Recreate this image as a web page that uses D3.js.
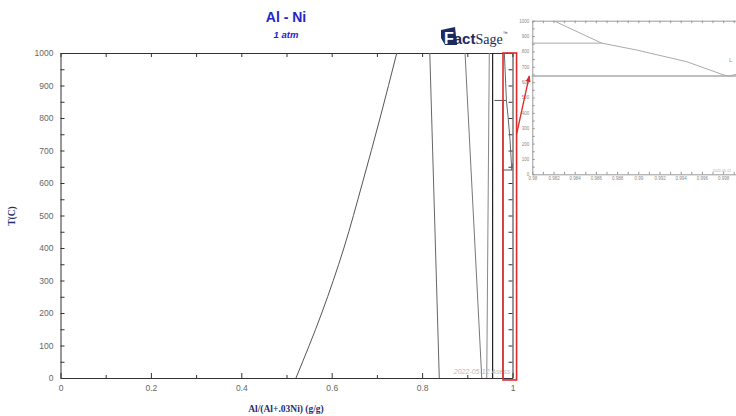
<!DOCTYPE html>
<html><head><meta charset="utf-8">
<script src="https://cdn.jsdelivr.net/npm/d3@7"></script>
<style>body{margin:0;background:#fff}svg{display:block}</style>
</head><body>
<svg id="c" width="736" height="416"></svg>
<script>
// ---- data (x = Al/(Al+.03Ni) g/g, T in °C) ----
const niSolvus   = [[0.521,0],[0.578,200],[0.627,400],[0.668,600],[0.707,800],[0.744,1000]];
const gammaPrime = [[0.817,1000],[0.838,0]];
const b2Left     = [[0.895,1000],[0.932,0]];
const b2Right    = [[0.9487,1000],[0.943,0]];
const al3ni2     = [[0.956,1000],[0.956,0]];
const peritectic = [[0.960,854],[0.98655,854]];
const al3ni      = [[0.9787,854],[0.9787,0]];
const eutectic   = [[0.9787,640],[1.0,640]];
const liquidus   = [[0.982,1000],[0.98655,854],[0.98985,809],[0.99457,733],[0.99808,646],[0.9985,640]];
const alLiquidus = [[0.9985,640],[1.0,660]];
const xTicksMain = [0,0.1,0.2,0.3,0.4,0.5,0.6,0.7,0.8,0.9,1];
const yTicksMain = d3.range(0,1001,50);
const xTicksInset = d3.range(0,21).map(i=>0.98+i*0.001);
const yTicksInset = d3.range(0,1001,50);

const svg = d3.select("#c");
const W=736,H=416;

// ---- main chart ----
const x = d3.scaleLinear([0,1],[60.5,512.5]);
const y = d3.scaleLinear([0,1000],[378,53]);
const line = d3.line().x(d=>x(d[0])).y(d=>y(d[1]));
const curve = d3.line().x(d=>x(d[0])).y(d=>y(d[1])).curve(d3.curveMonotoneY);

const lblFont = "Liberation Sans, Arial, sans-serif";

function styleAxis(g, labelColor, fs){
  g.select(".domain").attr("stroke","#333");
  g.selectAll(".tick line").attr("stroke","#333");
  g.selectAll(".tick text").attr("fill",labelColor).attr("font-size",fs).attr("font-family",lblFont);
}
const fmtMain = d=> String(+d.toFixed(2));
const gx = svg.append("g").attr("transform",`translate(0,${y(0)})`)
  .call(d3.axisBottom(x).tickValues(xTicksMain).tickSizeOuter(0).tickSizeInner(-4).tickPadding(7)
    .tickFormat(d=> Math.round(d*10)%2===0 ? fmtMain(d) : ""));
styleAxis(gx,"#666","8.5px");
gx.selectAll(".tick line").attr("y2",d=> Math.round(d*10)%2===0 ? -5 : -3);
const gxt = svg.append("g").attr("transform",`translate(0,${y(1000)})`)
  .call(d3.axisTop(x).tickValues(xTicksMain).tickSizeOuter(0).tickSizeInner(-4).tickFormat(""));
styleAxis(gxt,"#666","8px");
const gy = svg.append("g").attr("transform",`translate(${x(0)},0)`)
  .call(d3.axisLeft(y).tickValues(yTicksMain).tickSizeOuter(0).tickSizeInner(-4).tickPadding(7)
    .tickFormat(d=> d%100===0 ? d : ""));
styleAxis(gy,"#666","8.5px");
const gyr = svg.append("g").attr("transform",`translate(${x(1)},0)`)
  .call(d3.axisRight(y).tickValues(yTicksMain).tickSizeOuter(0).tickSizeInner(-4).tickFormat(""));
styleAxis(gyr,"#666","8px");

const mainLines = [
  {d:niSolvus, c:"#555", w:1, curved:true},
  {d:gammaPrime, c:"#666", w:1},
  {d:b2Left, c:"#777", w:1},
  {d:b2Right, c:"#888", w:1},
  {d:al3ni2, c:"#222", w:1.2},
  {d:peritectic, c:"#555", w:1},
  {d:al3ni, c:"#555", w:1},
  {d:eutectic, c:"#555", w:1},
  {d:liquidus, c:"#666", w:1},
  {d:alLiquidus, c:"#666", w:1}
];
svg.append("g").selectAll("path").data(mainLines).join("path")
  .attr("d",L=> (L.curved?curve:line)(L.d)).attr("fill","none")
  .attr("stroke",L=>L.c).attr("stroke-width",L=>L.w);

// watermark
svg.append("text").attr("x",x(0.87)).attr("y",y(0)-4).attr("font-size","7px")
  .attr("font-style","italic").attr("fill","#b8b8b8").attr("font-family",lblFont)
  .text("2022-05-12 Asess");

// titles
svg.append("text").attr("x",286).attr("y",22).attr("text-anchor","middle")
  .attr("font-family",lblFont).attr("font-weight","bold").attr("font-size","14px").attr("fill","#2323c8").text("Al - Ni");
svg.append("text").attr("x",286).attr("y",38).attr("text-anchor","middle")
  .attr("font-family",lblFont).attr("font-style","italic").attr("font-weight","bold").attr("font-size","9.5px").attr("fill","#2323c8").text("1 atm");
svg.append("text").attr("x",286).attr("y",412).attr("text-anchor","middle")
  .attr("font-family","Liberation Serif, Times New Roman, serif").attr("font-weight","bold").attr("font-size","9.5px").attr("fill","#2b2b6b").text("Al/(Al+.03Ni) (g/g)");
svg.append("text").attr("transform","translate(15,216) rotate(-90)").attr("text-anchor","middle")
  .attr("font-family","Liberation Serif, Times New Roman, serif").attr("font-weight","bold").attr("font-size","9.5px").attr("fill","#2b2b6b").text("T(C)");

// FactSage logo (text with dark badge behind F)
svg.append("path").attr("d","M441,30 L455,27 L457,45 L445,45 L441,38 Z").attr("fill","#1c2b5e");
const logo = svg.append("text").attr("x",444).attr("y",44).attr("fill","#1c2b5e");
logo.append("tspan").attr("font-family",lblFont).attr("font-weight","bold").attr("font-size","16px").attr("fill","#fff").text("F");
logo.append("tspan").attr("font-family",lblFont).attr("font-weight","bold").attr("font-size","15px").text("act");
logo.append("tspan").attr("font-family","Liberation Serif, serif").attr("font-size","14px").text("Sage");
logo.append("tspan").attr("font-family",lblFont).attr("font-size","5px").attr("dy","-9").text("™");

// ---- inset ----
const xi = d3.scaleLinear([0.98,1.0],[532.3,744.3]);
const yi = d3.scaleLinear([0,1000],[174.3,20.7]);
svg.append("rect").attr("x",531.5).attr("y",20).attr("width",W-531.5).attr("height",156).attr("fill","#fff");
svg.append("clipPath").attr("id","ic").append("rect").attr("x",531.7).attr("y",20.7).attr("width",W-531.7).attr("height",153.6);
const fmtIn = d=> String(+d.toFixed(3));
const ix = svg.append("g").attr("transform",`translate(0,${yi(0)})`)
  .call(d3.axisBottom(xi).tickValues(xTicksInset).tickSizeOuter(0).tickSizeInner(-2.5).tickPadding(3)
  .tickFormat(d=> Math.round((d-0.98)*1000)%2===0 && d<0.9995 ? fmtIn(d) : ""));
const ixt = svg.append("g").attr("transform",`translate(0,${yi(1000)})`)
  .call(d3.axisTop(xi).tickValues(xTicksInset).tickSizeOuter(0).tickSizeInner(-2.5).tickFormat(""));
const iy = svg.append("g").attr("transform",`translate(${xi(0.98)},0)`)
  .call(d3.axisLeft(yi).tickValues(yTicksInset).tickSizeOuter(0).tickSizeInner(-2.5).tickPadding(3)
  .tickFormat(d=> d%100===0 ? d : ""));
[ix,ixt,iy].forEach(g=>{
  g.select(".domain").attr("stroke","#999");
  g.selectAll(".tick line").attr("stroke","#999");
  g.selectAll(".tick text").attr("fill","#888").attr("font-size","4.5px").attr("font-family",lblFont);
});
const lineI = d3.line().x(d=>xi(d[0])).y(d=>yi(d[1]));
const insetLines = [
  {d:peritectic, w:1},
  {d:eutectic, w:1.6},
  {d:liquidus, w:1},
  {d:alLiquidus, w:1}
];
svg.append("g").attr("clip-path","url(#ic)").selectAll("path").data(insetLines).join("path")
  .attr("d",L=>lineI(L.d)).attr("fill","none").attr("stroke","#aaa").attr("stroke-width",L=>L.w);
svg.append("text").attr("x",729).attr("y",yi(730)).attr("font-size","6px").attr("fill","#999").attr("font-family",lblFont).text("L");
svg.append("text").attr("x",713).attr("y",yi(15)).attr("font-size","3.5px").attr("fill","#aaa").attr("font-family",lblFont).text("2022-05-12");

// ---- red zoom box and arrow ----
svg.append("rect").attr("x",x(0.979)).attr("y",y(1000)).attr("width",x(1.009)-x(0.979)).attr("height",y(-6)-y(1000))
  .attr("fill","none").attr("stroke","#e02a2a").attr("stroke-width",1.6);
svg.append("defs").append("marker").attr("id","ah").attr("viewBox","0 0 10 10").attr("refX",9).attr("refY",5)
  .attr("markerWidth",5).attr("markerHeight",5).attr("orient","auto")
  .append("path").attr("d","M0,1 L10,5 L0,9 Z").attr("fill","#e02a2a");
svg.append("line").attr("x1",x(1.009)).attr("y1",y(750)).attr("x2",xi(0.98)-3).attr("y2",yi(640))
  .attr("stroke","#e02a2a").attr("stroke-width",1.3).attr("marker-end","url(#ah)");
</script>
</body></html>
